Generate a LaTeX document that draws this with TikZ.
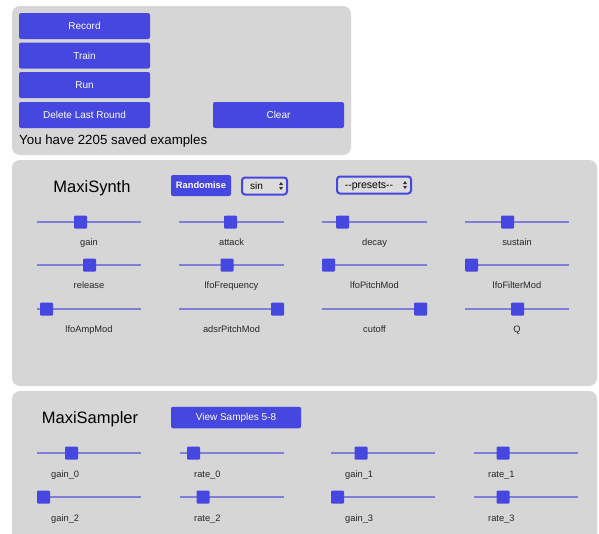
\documentclass[tikz,border=0pt]{standalone}
\usepackage{fontspec}
\setmainfont{Liberation Sans}
\definecolor{panelgray}{HTML}{D6D6D6}
\definecolor{uiblue}{HTML}{4646E0}
\definecolor{trackblue}{HTML}{7F7FD8}
\definecolor{selectfill}{HTML}{DCDCDC}
\tikzset{
  panel/.style={fill=panelgray, draw=none, rounded corners=8pt},
  uibutton/.style={fill=uiblue, draw=none, rounded corners=2pt, text=white,
    font=\fontsize{10}{12}\selectfont, inner sep=0pt, minimum height=26pt},
  uiselect/.style={fill=selectfill, draw=uiblue, line width=2pt, rounded corners=3pt,
    inner sep=0pt, minimum height=17pt},
  thumb/.style={fill=uiblue, draw=none, rounded corners=1pt, minimum width=13pt,
    minimum height=13pt, inner sep=0pt},
  track/.style={draw=trackblue, line width=1.5pt},
  sliderlabel/.style={font=\fontsize{9.3}{11}\selectfont, text=black!85, inner sep=0pt},
  paneltitle/.style={font=\fontsize{16.5}{20}\selectfont, inner sep=0pt, anchor=base},
  updown/.style={fill=black!80, draw=none}
}
% slider: #1 name, #2 track start x, #3 track end x, #4 track y, #5 thumb x, #6 label
\newcommand\uislider[6]{%
  \coordinate (#1-a) at (#2,#4);
  \coordinate (#1-b) at (#3,#4);
  \draw[track] (#1-a) -- (#1-b);
  \node[thumb] (#1-thumb) at (#5,#4) {};
  \node[sliderlabel, anchor=base] (#1-label) at ({(#2+#3)/2},{#4+23.5}) {#6};
}
% sampler slider: label set from the left end of the track
\newcommand\uisamplerslider[6]{%
  \coordinate (#1-a) at (#2,#4);
  \coordinate (#1-b) at (#3,#4);
  \draw[track] (#1-a) -- (#1-b);
  \node[thumb] (#1-thumb) at (#5,#4) {};
  \node[sliderlabel, anchor=base west] (#1-label) at ({#2+14},{#4+24.5}) {#6};
}
% up/down arrows of a select box
\newcommand\updownarrows[2]{%
  \fill[updown] (#1-2,#2-1) -- (#1+2,#2-1) -- (#1,#2-4) -- cycle;
  \fill[updown] (#1-2,#2+1) -- (#1+2,#2+1) -- (#1,#2+4) -- cycle;
}
\begin{document}
\begin{tikzpicture}[x=1pt, y=-1pt]
  \useasboundingbox (0,0) rectangle (599,533);
  \fill[white] (0,0) rectangle (599,533);
  \clip (0,0) rectangle (599,533);

  % training controls
  \fill[panel] (12,6) rectangle (351,155);
  \node[uibutton, minimum width=131pt] (record) at (84.5,26) {Record};
  \node[uibutton, minimum width=131pt] (train) at (84.5,55.5) {Train};
  \node[uibutton, minimum width=131pt] (run) at (84.5,85) {Run};
  \node[uibutton, minimum width=131pt] (delete) at (84.5,115) {Delete Last Round};
  \node[uibutton, minimum width=131pt] (clear) at (278.5,115) {Clear};
  \node[anchor=base west, inner sep=0pt, font=\fontsize{13.3}{16}\selectfont] (count) at (19,144.5) {You have 2205 saved examples};

  % synth panel
  \fill[panel] (12,160) rectangle (597,386);
  \node[paneltitle] (synthtitle) at (92,192) {MaxiSynth};
  \node[uibutton, minimum width=60pt, minimum height=21pt, font=\fontsize{9.3}{12}\selectfont\bfseries] (randomise) at (201,185.5) {Randomise};
  \node[uiselect, minimum width=45pt] (wave) at (264.5,186) {};
  \node[anchor=base west, inner sep=0pt, font=\fontsize{10}{12}\selectfont] (wavetext) at (250,189.5) {sin};
  \updownarrows{281}{186}
  \node[uiselect, minimum width=74pt] (presets) at (374,185) {};
  \node[anchor=base, inner sep=0pt, font=\fontsize{10.5}{12}\selectfont] (presettext) at (369,188.5) {-{}-presets-{}-};
  \updownarrows{405}{185}

  \uislider{gain}{37}{141}{222}{80.5}{gain}
  \uislider{attack}{179}{284}{222}{230.5}{attack}
  \uislider{decay}{322}{427}{222}{342.5}{decay}
  \uislider{sustain}{465}{569}{222}{507.5}{sustain}

  \uislider{release}{37}{141}{265}{89.5}{release}
  \uislider{lfofreq}{179}{284}{265}{227}{lfoFrequency}
  \uislider{lfopitch}{322}{427}{265}{328.5}{lfoPitchMod}
  \uislider{lfofilter}{465}{569}{265}{471.5}{lfoFilterMod}

  \uislider{lfoamp}{37}{141}{309}{46.5}{lfoAmpMod}
  \uislider{adsrpitch}{179}{284}{309}{277.5}{adsrPitchMod}
  \uislider{cutoff}{322}{427}{309}{420.5}{cutoff}
  \uislider{q}{465}{569}{309}{517.5}{Q}

  % sampler panel
  \fill[panel] (12,391) rectangle (597,560);
  \node[paneltitle] (samplertitle) at (90,423) {MaxiSampler};
  \node[uibutton, minimum width=130pt, minimum height=21.5pt] (viewsamples) at (236,417.5) {View Samples 5-8};

  \uisamplerslider{gain0}{37}{141}{453}{71.5}{gain\_0}
  \uisamplerslider{rate0}{180}{284}{453}{193.5}{rate\_0}
  \uisamplerslider{gain1}{331}{435}{453}{361}{gain\_1}
  \uisamplerslider{rate1}{474}{578}{453}{503}{rate\_1}

  \uisamplerslider{gain2}{37}{141}{497}{43.5}{gain\_2}
  \uisamplerslider{rate2}{180}{284}{497}{203}{rate\_2}
  \uisamplerslider{gain3}{331}{435}{497}{337.5}{gain\_3}
  \uisamplerslider{rate3}{474}{578}{497}{503}{rate\_3}
\end{tikzpicture}
\end{document}
